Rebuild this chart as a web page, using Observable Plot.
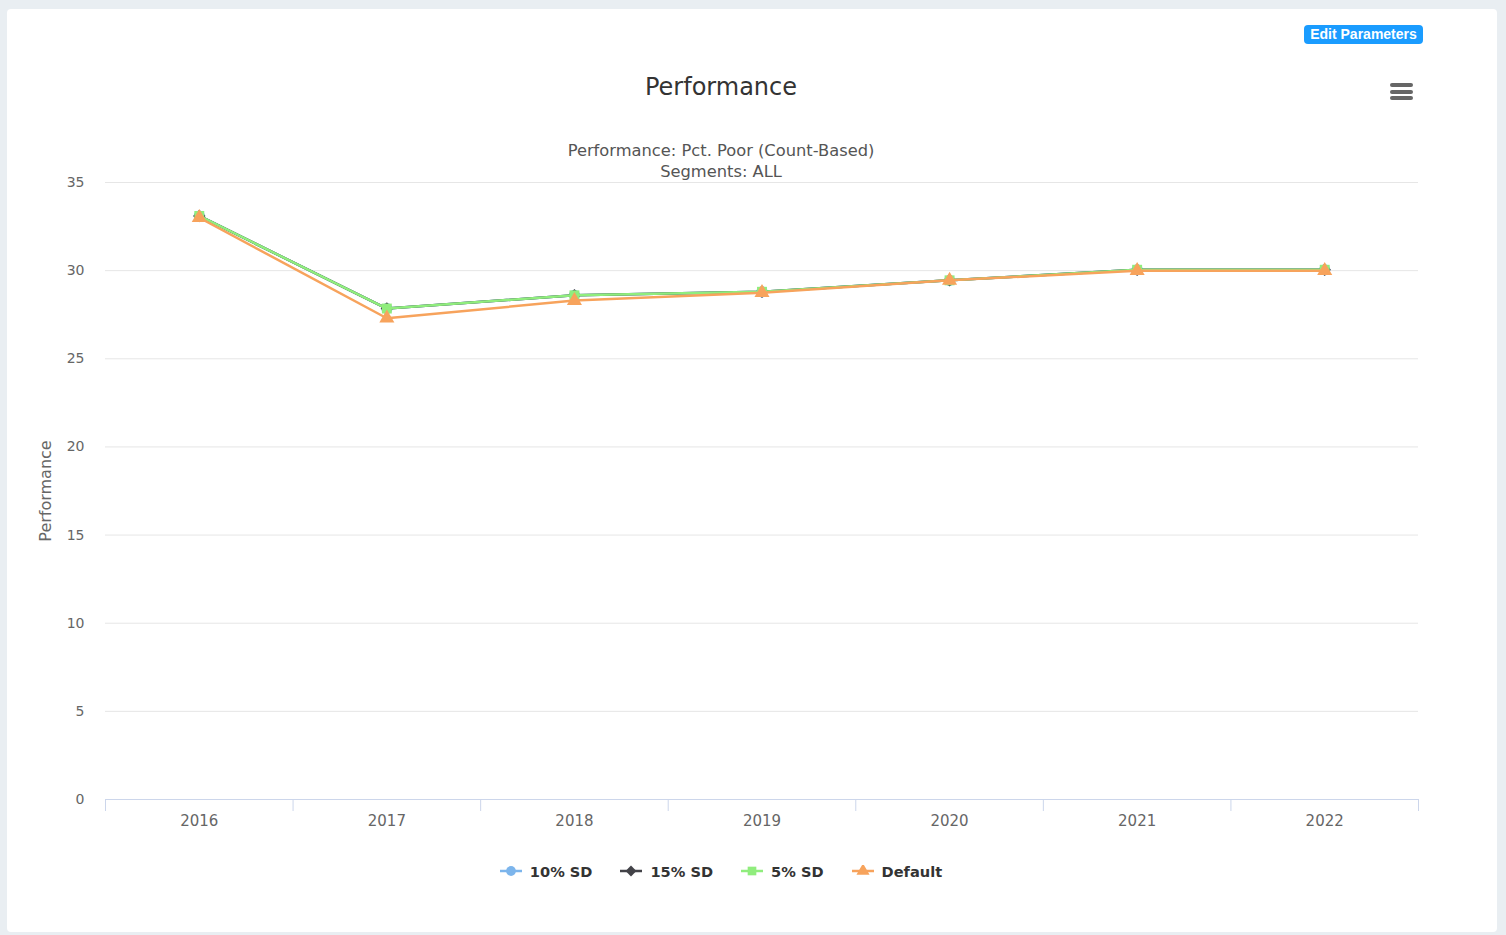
<!DOCTYPE html>
<html><head><meta charset="utf-8">
<script src="https://cdn.jsdelivr.net/npm/d3@7"></script>
<script src="https://cdn.jsdelivr.net/npm/@observablehq/plot@0.6"></script>
<style>
html,body{margin:0;padding:0;background:#e9eef2;width:1506px;height:935px;overflow:hidden;font-family:"DejaVu Sans",sans-serif}
#card{position:absolute;left:7px;top:9px;width:1490px;height:923px;background:#fff;border-radius:4px;overflow:hidden}
#chart{position:absolute;left:0;top:0}
#title{position:absolute;left:0;width:1428px;top:64px;text-align:center;font-size:24px;line-height:28px;color:#333}
#subtitle{position:absolute;left:0;width:1428px;top:131px;text-align:center;font-size:16.3px;line-height:21px;color:#555}
#legend{position:absolute;left:0;width:1428px;top:851px;height:22px;display:flex;justify-content:center;align-items:center;gap:28px}
.item{display:flex;align-items:center;gap:8px;font-weight:bold;font-size:14.6px;color:#333}
#btn{position:absolute;left:1297px;top:16px;width:119px;height:19px;background:#1a9cff;border-radius:4px;color:#fff;font-family:"Liberation Sans",Arial,sans-serif;font-weight:bold;font-size:14px;line-height:19px;text-align:center}
#menu{position:absolute;left:1383px;top:74px;width:23px}
#menu div{height:4px;background:#666;border-radius:2px;margin-bottom:2.5px}
</style></head>
<body>
<div id="card">
  <div id="chart"></div>
  <div id="title">Performance</div>
  <div id="subtitle">Performance: Pct. Poor (Count-Based)<br>Segments: ALL</div>
  <div id="btn">Edit Parameters</div>
  <div id="menu"><div></div><div></div><div></div></div>
  <div id="legend"></div>
</div>
<script>
const years = [2016, 2017, 2018, 2019, 2020, 2021, 2022];
const sd10 = [33.1, 27.85, 28.6, 28.8, 29.45, 30.05, 30.05];
const sd15 = [33.1, 27.85, 28.6, 28.8, 29.45, 30.05, 30.05];
const sd5 = [33.1, 27.85, 28.6, 28.8, 29.45, 30.05, 30.05];
const defaultVals = [33.0, 27.3, 28.3, 28.75, 29.45, 30.0, 30.0];
const seriesNames = ["10% SD", "15% SD", "5% SD", "Default"];
const seriesColors = ["#7cb5ec", "#434348", "#90ed7d", "#f7a35c"];
const seriesSymbols = ["circle", "diamond2", "square", "triangle"];
const yTicks = [0, 5, 10, 15, 20, 25, 30, 35];

const seriesValues = [sd10, sd15, sd5, defaultVals];
const boundaries = years.map(y => y - 0.5).concat([years[years.length - 1] + 0.5]);

const seriesMarks = [];
seriesNames.forEach((name, i) => {
  const data = years.map((yr, j) => ({year: yr, value: seriesValues[i][j], series: name}));
  seriesMarks.push(Plot.line(data, {x: "year", y: "value", stroke: seriesColors[i], strokeWidth: 2.5}));
  seriesMarks.push(Plot.dot(data, {x: "year", y: "value", fill: seriesColors[i], symbol: seriesSymbols[i], r: 5.6, stroke: "none"}));
});

const chart = Plot.plot({
  width: 1490,
  height: 923,
  marginLeft: 98,
  marginRight: 79,
  marginTop: 173,
  marginBottom: 133,
  style: {fontFamily: "DejaVu Sans, sans-serif", background: "transparent", color: "#666"},
  x: {domain: [boundaries[0], boundaries[boundaries.length - 1]], axis: null},
  y: {domain: [0, 35], axis: null},
  marks: [
    Plot.gridY(yTicks, {stroke: "#e6e6e6", strokeOpacity: 1}),
    Plot.axisY(yTicks, {tickSize: 0, tickPadding: 21, fontSize: 14, fill: "#666", label: null}),
    Plot.text(["Performance"], {frameAnchor: "left", textAnchor: "middle", rotate: -90, dx: -60, fontSize: 16, fill: "#666"}),
    Plot.ruleY([0], {stroke: "#ccd6eb", strokeWidth: 1}),
    Plot.axisX(boundaries, {tickSize: 12, tickFormat: () => "", stroke: "#ccd6eb", strokeOpacity: 1, label: null}),
    Plot.axisX(years, {tickSize: 0, tickPadding: 16, tickFormat: d => String(d), fontSize: 15, fill: "#666", label: null}),
    ...seriesMarks
  ]
});
document.getElementById("chart").appendChild(chart);

const legend = document.getElementById("legend");
seriesNames.forEach((name, i) => {
  const item = document.createElement("div");
  item.className = "item";
  const sym = d3.create("svg").attr("width", 22).attr("height", 12);
  sym.append("line").attr("x1", 0).attr("x2", 22).attr("y1", 6).attr("y2", 6).attr("stroke", seriesColors[i]).attr("stroke-width", 2.5);
  const shapes = {circle: d3.symbolCircle, diamond2: d3.symbolDiamond2, square: d3.symbolSquare, triangle: d3.symbolTriangle};
  sym.append("path").attr("transform", "translate(11,6)").attr("d", d3.symbol(shapes[seriesSymbols[i]], 75)()).attr("fill", seriesColors[i]);
  item.appendChild(sym.node());
  const t = document.createElement("span");
  t.textContent = name;
  item.appendChild(t);
  legend.appendChild(item);
});
</script>
</body></html>
